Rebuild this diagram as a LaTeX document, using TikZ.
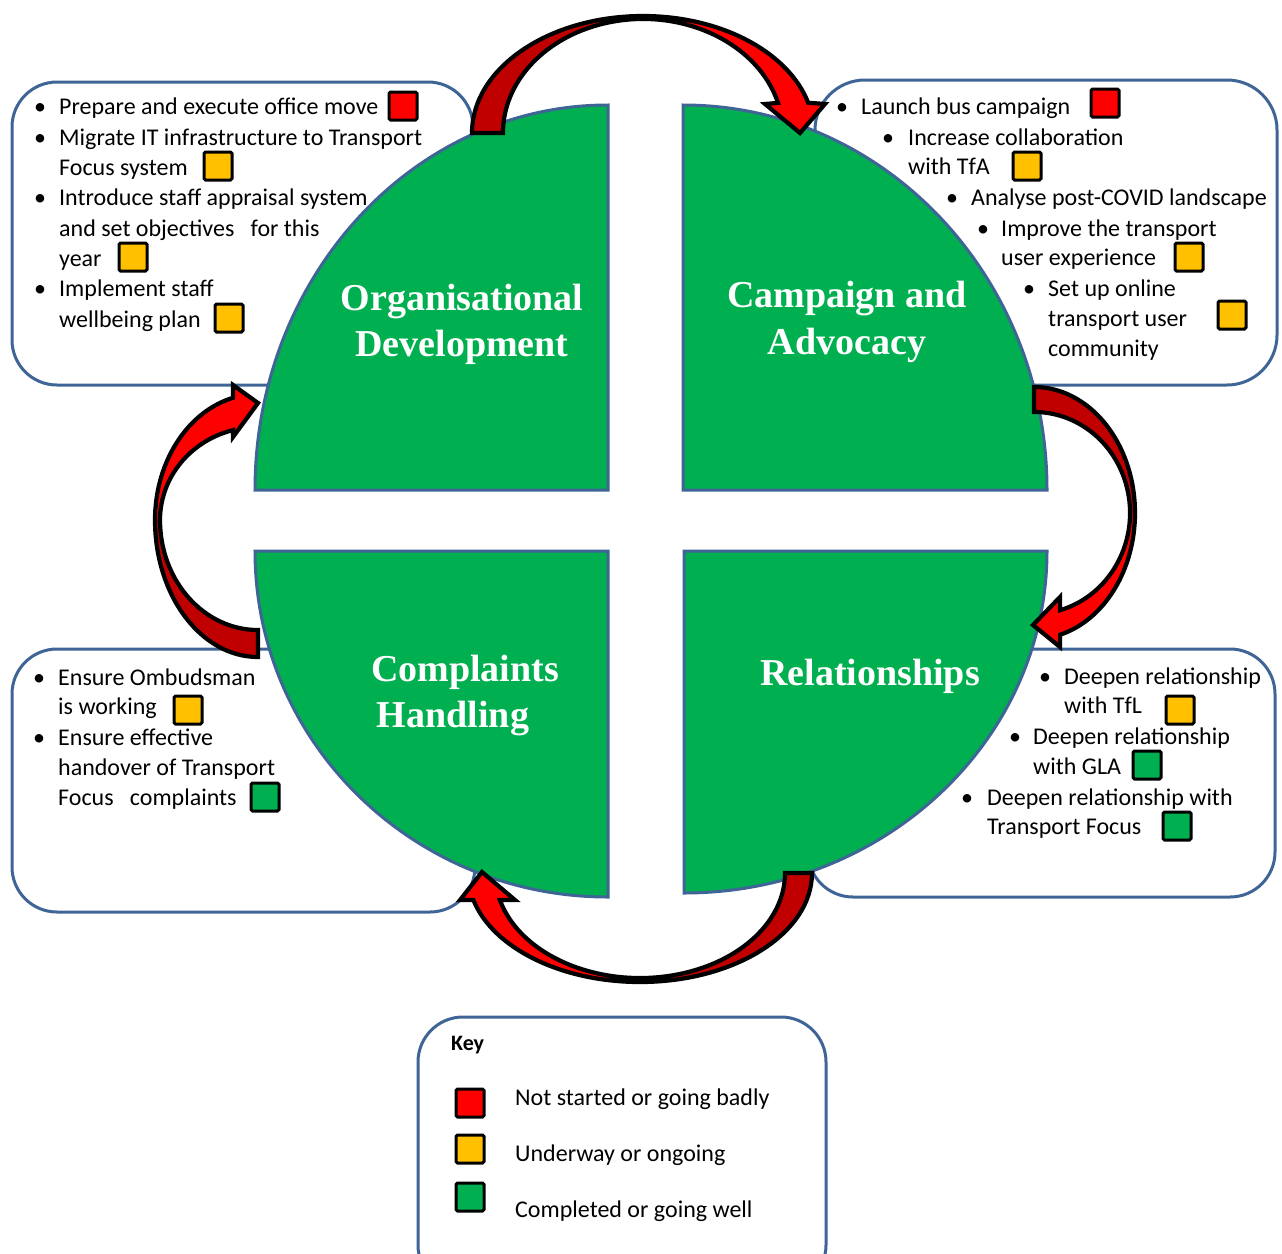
\documentclass[tikz,border=0pt]{standalone}
\usepackage{fontspec}
\setmainfont{Carlito}
\newfontfamily\ttlfont{Liberation Serif}
\definecolor{grn}{HTML}{00B050}
\definecolor{ylw}{HTML}{FFC000}
\definecolor{rd}{HTML}{FF0000}
\definecolor{drd}{HTML}{C00000}
\definecolor{bdr}{HTML}{3F6596}
\begin{document}
\begin{tikzpicture}[x=1pt,y=-1pt,
 box/.style={draw=bdr,line width=3pt,fill=white,rounded corners=45pt},
 quad/.style={draw=bdr,line width=3pt,fill=grn,line join=miter},
 txt/.style={anchor=base west,inner sep=0pt,font=\fontsize{24}{28}\selectfont},
 bul/.style={anchor=base,inner sep=0pt,font=\fontsize{24}{28}\selectfont},
 sq/.style={draw=black,line width=3pt,minimum size=28pt,inner sep=0pt,rounded corners=1.5pt},
 ttl/.style={text=white,font=\ttlfont\bfseries\fontsize{38}{44}\selectfont,inner sep=0pt,anchor=base},
 arrline/.style={draw=black,line width=4.2pt,line join=miter},
]
\useasboundingbox (0,0) rectangle (1282,1253);

% boxes
\draw[box] (12,82) rectangle (473,385);
\draw[box,rounded corners=50pt] (815,80) rectangle (1277,385);
\draw[box] (12,649) rectangle (475,912);
\draw[box] (808,649) rectangle (1275,897);
\draw[box] (418,1017) rectangle (826,1290);

% quadrants
\draw[quad] (608,490) -- (255,490) arc[start angle=180,end angle=90,x radius=353pt,y radius=385pt] -- cycle;
\draw[quad] (683,490) -- (683,105) arc[start angle=90,end angle=0,x radius=364pt,y radius=385pt] -- cycle;
\draw[quad] (608,551) -- (255,551) arc[start angle=180,end angle=270,x radius=353pt,y radius=346pt] -- cycle;
\draw[quad] (684,551) -- (1047,551) arc[start angle=0,end angle=-90,x radius=363pt,y radius=342pt] -- cycle;

% titles
\node[ttl] (od1) at (462,310) {Organisational};
\node[ttl] (od2) at (462,356) {Development};
\node[ttl] (ca1) at (847,307) {Campaign and};
\node[ttl] (ca2) at (847,354) {Advocacy};
\node[ttl] (ch1) at (465,681) {Complaints};
\node[ttl] (ch2) at (453,727) {Handling};
\node[ttl] (rl1) at (870,685) {Relationships};

% top-left list
\node[bul] (tlb1) at (40,114) {•};
\node[txt] (tl1) at (59,114) {Prepare and execute office move};
\node[sq,fill=rd] (tls1) at (403,106) {};
\node[bul] (tlb2) at (40,145) {•};
\node[txt] (tl2) at (59,145) {Migrate IT infrastructure to Transport};
\node[txt] (tl3) at (59,175) {Focus system};
\node[sq,fill=ylw] (tls2) at (218,166) {};
\node[bul] (tlb3) at (40,205) {•};
\node[txt] (tl4) at (59,205) {Introduce staff appraisal system};
\node[txt] (tl5) at (59,236) {and set objectives\ \ \ for this};
\node[txt] (tl6) at (59,266) {year};
\node[sq,fill=ylw] (tls3) at (133,257) {};
\node[bul] (tlb4) at (40,296) {•};
\node[txt] (tl7) at (59,296) {Implement staff};
\node[txt] (tl8) at (59,327) {wellbeing plan};
\node[sq,fill=ylw] (tls4) at (229,318) {};

% top-right list
\node[bul] (trb1) at (842,114) {•};
\node[txt] (tr1) at (861,114) {Launch bus campaign};
\node[sq,fill=rd] (trs1) at (1105,103) {};
\node[bul] (trb2) at (888,145) {•};
\node[txt] (tr2) at (908,145) {Increase collaboration};
\node[txt] (tr3) at (908,174) {with TfA};
\node[sq,fill=ylw] (trs2) at (1027,166) {};
\node[bul] (trb3) at (952,205) {•};
\node[txt] (tr4) at (971,205) {Analyse post-COVID landscape};
\node[bul] (trb4) at (983,236) {•};
\node[txt] (tr5) at (1001,236) {Improve the transport};
\node[txt] (tr6) at (1001,265) {user experience};
\node[sq,fill=ylw] (trs3) at (1189,257) {};
\node[bul] (trb5) at (1029,296) {•};
\node[txt] (tr7) at (1048,296) {Set up online};
\node[txt] (tr8) at (1048,326) {transport user};
\node[sq,fill=ylw] (trs4) at (1232,315) {};
\node[txt] (tr9) at (1048,356) {community};

% bottom-left list
\node[bul] (blb1) at (39,685) {•};
\node[txt] (bl1) at (58,685) {Ensure Ombudsman};
\node[txt] (bl2) at (58,714) {is working};
\node[sq,fill=ylw] (bls1) at (188,710) {};
\node[bul] (blb2) at (39,745) {•};
\node[txt] (bl3) at (58,745) {Ensure effective};
\node[txt] (bl4) at (58,775) {handover of Transport};
\node[txt] (bl5) at (58,805) {Focus\ \ \ complaints};
\node[sq,fill=grn] (bls2) at (265,797) {};

% bottom-right list
\node[bul] (brb1) at (1045,684) {•};
\node[txt] (br1) at (1064,684) {Deepen relationship};
\node[txt] (br2) at (1064,713) {with TfL};
\node[sq,fill=ylw] (brs1) at (1180,710) {};
\node[bul] (brb2) at (1015,744) {•};
\node[txt] (br3) at (1033,744) {Deepen relationship};
\node[txt] (br4) at (1033,774) {with GLA};
\node[sq,fill=grn] (brs2) at (1147,765) {};
\node[bul] (brb3) at (967,805) {•};
\node[txt] (br5) at (987,805) {Deepen relationship with};
\node[txt] (br6) at (987,834) {Transport Focus};
\node[sq,fill=grn] (brs3) at (1177,826) {};

% key
\node[txt,font=\bfseries\fontsize{22}{26}\selectfont] (key) at (451,1050) {Key};
\node[sq,fill=rd] (k1) at (470,1103) {};
\node[txt] (kt1) at (515,1105) {Not started or going badly};
\node[sq,fill=ylw] (k2) at (470,1149) {};
\node[txt] (kt2) at (515,1161) {Underway or ongoing};
\node[sq,fill=grn] (k3) at (470,1197) {};
\node[txt] (kt3) at (515,1217) {Completed or going well};

% top arrow
\fill[drd] (472,133) arc[start angle=180,end angle=90,x radius=171pt,y radius=117pt] -- (643,19) arc[start angle=90,end angle=180,x radius=140pt,y radius=114pt] -- cycle;
\fill[rd] (643,16) arc[start angle=90,end angle=15,x radius=171pt,y radius=117pt] -- (825,104) -- (800,133) -- (765,104) -- (778,102.9) arc[start angle=15.3,end angle=90,x radius=140pt,y radius=114pt] -- cycle;
\draw[arrline] (472,133) arc[start angle=180,end angle=15,x radius=171pt,y radius=117pt] -- (825,104) -- (800,133) -- (765,104) -- (778,102.9) arc[start angle=15.3,end angle=180,x radius=140pt,y radius=114pt] -- cycle;

% right arrow
\fill[drd] (1034,387) arc[start angle=90,end angle=0,x radius=101pt,y radius=126pt] -- (1130,513) arc[start angle=0,end angle=90,x radius=96pt,y radius=101pt] -- cycle;
\fill[rd] (1135,513) arc[start angle=0,end angle=-75,x radius=101pt,y radius=126pt] -- (1060,647) -- (1033,625) -- (1060,597) -- (1060,610.2) arc[start angle=-74.3,end angle=0,x radius=96pt,y radius=101pt] -- cycle;
\draw[arrline] (1034,387) arc[start angle=90,end angle=-75,x radius=101pt,y radius=126pt] -- (1060,647) -- (1033,625) -- (1060,597) -- (1060,610.2) arc[start angle=-74.3,end angle=90,x radius=96pt,y radius=101pt] -- cycle;

% bottom arrow
\fill[drd] (812,873) arc[start angle=0,end angle=-90,x radius=172pt,y radius=109pt] -- (640,978) arc[start angle=-90,end angle=0,x radius=145pt,y radius=105pt] -- cycle;
\fill[rd] (640,982) arc[start angle=-90,end angle=-165.7,x radius=172pt,y radius=109pt] -- (460,900) -- (482,872) -- (515,900) -- (499.9,900) arc[start angle=-165.1,end angle=-90,x radius=145pt,y radius=105pt] -- cycle;
\draw[arrline] (812,873) arc[start angle=0,end angle=-165.7,x radius=172pt,y radius=109pt] -- (460,900) -- (482,872) -- (515,900) -- (499.9,900) arc[start angle=-165.1,end angle=0,x radius=145pt,y radius=105pt] -- cycle;

% left arrow
\fill[drd] (258,657) arc[start angle=270,end angle=180,x radius=103pt,y radius=137pt] -- (160,520) arc[start angle=180,end angle=270,x radius=98pt,y radius=110pt] -- cycle;
\fill[rd] (155,520) arc[start angle=180,end angle=104,x radius=103pt,y radius=126pt] -- (233,385) -- (258,403) -- (233,437) -- (233,430.1) arc[start angle=104.8,end angle=180,x radius=98pt,y radius=93pt] -- cycle;
\draw[arrline] (258,657) arc[start angle=270,end angle=180,x radius=103pt,y radius=137pt] arc[start angle=180,end angle=104,x radius=103pt,y radius=126pt] -- (233,385) -- (258,403) -- (233,437) -- (233,430.1) arc[start angle=104.8,end angle=180,x radius=98pt,y radius=93pt] arc[start angle=180,end angle=270,x radius=98pt,y radius=110pt] -- cycle;
\end{tikzpicture}
\end{document}
